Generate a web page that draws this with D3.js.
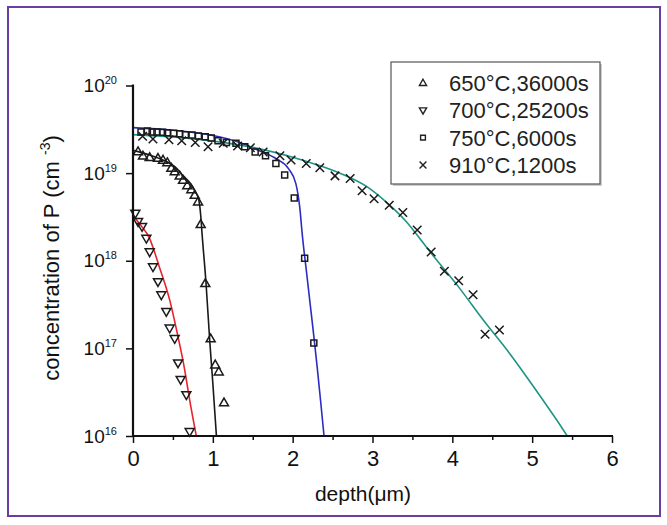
<!DOCTYPE html>
<html>
<head>
<meta charset="utf-8">
<script src="https://cdn.jsdelivr.net/npm/d3@7"></script>
<style>
  html, body { margin: 0; padding: 0; background: #fff; }
  svg { display: block; font-family: "Liberation Sans", Arial, sans-serif; }
</style>
</head>
<body>
<svg id="chart" width="667" height="525"></svg>
<script>
// ---------------- data (depth in µm, concentration in cm^-3) ----------------
const seriesNames = ["650°C,36000s", "700°C,25200s", "750°C,6000s", "910°C,1200s"];
const xTicks = [0, 1, 2, 3, 4, 5, 6];
const yDecades = [16, 17, 18, 19, 20];

const data650 = [
  [0.063, 1.76e19], [0.125, 1.57e19], [0.209, 1.51e19], [0.313, 1.48e19], [0.376, 1.41e19],
  [0.43, 1.32e19], [0.48, 1.14e19], [0.522, 1.04e19], [0.585, 9.3e18], [0.627, 8.3e18],
  [0.68, 7.2e18], [0.731, 6.5e18], [0.773, 5.6e18], [0.815, 4.7e18], [0.848, 2.6e18],
  [0.906, 5.5e17], [0.973, 1.29e17], [1.03, 6.5e16], [1.074, 5.4e16], [1.14, 2.4e16]
];
const data700 = [
  [0.029, 3.47e18], [0.063, 2.79e18], [0.113, 2.45e18], [0.167, 1.80e18], [0.209, 1.26e18],
  [0.25, 8.5e17], [0.313, 5.75e17], [0.355, 4.07e17], [0.417, 2.63e17], [0.459, 1.70e17],
  [0.522, 1.29e17], [0.564, 6.8e16], [0.597, 4.4e16], [0.668, 2.95e16], [0.71, 1.12e16]
];
const data750 = [
  [0.10, 2.95e19], [0.18, 3.02e19], [0.24, 2.95e19], [0.30, 2.95e19], [0.37, 2.92e19],
  [0.43, 2.88e19], [0.51, 2.85e19], [0.585, 2.82e19], [0.656, 2.75e19], [0.74, 2.72e19],
  [0.82, 2.66e19], [0.905, 2.60e19], [0.98, 2.51e19], [1.065, 2.34e19], [1.17, 2.24e19],
  [1.29, 2.19e19], [1.40, 2.0e19], [1.53, 1.74e19], [1.66, 1.58e19], [1.79, 1.29e19],
  [1.90, 9.5e18], [2.02, 5.2e18], [2.15, 1.07e18], [2.265, 1.15e17]
];
const data910 = [
  [0.12, 2.63e19], [0.25, 2.45e19], [0.45, 2.40e19], [0.61, 2.34e19], [0.78, 2.24e19],
  [0.94, 2.0e19], [1.13, 2.19e19], [1.31, 2.04e19], [1.47, 1.95e19], [1.63, 1.74e19],
  [1.84, 1.58e19], [1.98, 1.41e19], [2.17, 1.29e19], [2.34, 1.15e19], [2.53, 9.3e18],
  [2.72, 8.7e18], [2.87, 6.3e18], [3.02, 5.1e18], [3.21, 4.3e18], [3.38, 3.55e18],
  [3.56, 2.24e18], [3.735, 1.26e18], [3.90, 7.6e17], [4.08, 5.9e17], [4.26, 4.1e17],
  [4.41, 1.45e17], [4.59, 1.62e17]
];

// fitted curves
const fit650 = [
  [0, 1.82e19], [0.2, 1.62e19], [0.4, 1.38e19], [0.53, 1.17e19], [0.63, 9.3e18],
  [0.72, 7.6e18], [0.78, 6.2e18], [0.825, 4.9e18], [0.85, 3.16e18], [0.865, 2.04e18],
  [0.915, 5.5e17], [0.961, 1.23e17], [1.0, 4.0e16], [1.045, 1.0e16]
];
const fit700 = [
  [0, 3.31e18], [0.05, 2.88e18], [0.11, 2.45e18], [0.2, 1.86e18], [0.33, 8.5e17],
  [0.46, 3.55e17], [0.555, 1.48e17], [0.64, 6.2e16], [0.71, 2.57e16], [0.793, 1.0e16]
];
const fit750 = [
  [0, 3.31e19], [0.5, 3.09e19], [1.0, 2.69e19], [1.3, 2.29e19], [1.57, 1.82e19],
  [1.8, 1.45e19], [1.95, 1.12e19], [2.04, 7.6e18], [2.09, 3.98e18], [2.12, 2.0e18],
  [2.17, 7.9e17], [2.22, 3.16e17], [2.27, 1.26e17], [2.31, 5.75e16], [2.35, 2.51e16],
  [2.393, 1.0e16]
];
const fit910 = [
  [0, 2.75e19], [0.5, 2.58e19], [1.0, 2.32e19], [1.5, 1.97e19], [2.0, 1.52e19],
  [2.3, 1.25e19], [2.6, 9.9e18], [2.93, 7.0e18], [3.18, 4.6e18], [3.41, 2.88e18],
  [3.74, 1.2e18], [4.08, 5.0e17], [4.39, 2.09e17], [4.72, 8.7e16], [5.02, 3.63e16],
  [5.31, 1.51e16], [5.44, 1.0e16]
];

// ---------------- chart ----------------
const svg = d3.select("#chart");
const W = 667, H = 525;
const plot = { left: 133, right: 612, top: 85.5, bottom: 436 };

svg.append("rect").attr("x", 0).attr("y", 0).attr("width", W).attr("height", H).attr("fill", "#fff");
// purple frame
svg.append("rect").attr("x", 8).attr("y", 7).attr("width", 652).attr("height", 509)
  .attr("fill", "none").attr("stroke", "#6a3e9e").attr("stroke-width", 2);

const x = d3.scaleLinear().domain([0, 6]).range([plot.left, plot.right]);
const y = d3.scaleLog().domain([1e16, 1e20]).range([plot.bottom, plot.top]);

svg.append("clipPath").attr("id", "clip").append("rect")
  .attr("x", plot.left).attr("y", plot.top - 2)
  .attr("width", plot.right - plot.left).attr("height", plot.bottom - plot.top + 2);

// fitted lines
const line = d3.line().x(d => x(d[0])).y(d => y(d[1])).curve(d3.curveMonotoneX);
const fits = [
  { d: fit650, c: "#1a1a1a" },
  { d: fit700, c: "#e8232e" },
  { d: fit750, c: "#2c2cc4" },
  { d: fit910, c: "#1c9486" }
];
const gLines = svg.append("g").attr("clip-path", "url(#clip)");
fits.forEach(f => {
  gLines.append("path").datum(f.d).attr("d", line)
    .attr("fill", "none").attr("stroke", f.c).attr("stroke-width", 1.6);
});

// marker shapes
function triUp(s) { const h = s * 0.866; return `M0,${-h * 0.6}L${s / 2},${h * 0.4}L${-s / 2},${h * 0.4}Z`; }
function triDown(s) { const h = s * 0.866; return `M0,${h * 0.6}L${s / 2},${-h * 0.4}L${-s / 2},${-h * 0.4}Z`; }
function square(s) { return `M${-s / 2},${-s / 2}h${s}v${s}h${-s}Z`; }
function cross(s) { const r = s / 2; return `M${-r},${-r}L${r},${r}M${-r},${r}L${r},${-r}`; }

const markerSets = [
  { d: data650, shape: triUp, size: 9 },
  { d: data700, shape: triDown, size: 9 },
  { d: data750, shape: square, size: 6 },
  { d: data910, shape: cross, size: 8.5 }
];
const gMarks = svg.append("g");
markerSets.forEach(m => {
  gMarks.selectAll(null).data(m.d).enter().append("path")
    .attr("transform", d => `translate(${x(d[0])},${y(d[1])})`)
    .attr("d", m.shape(m.size))
    .attr("fill", "none").attr("stroke", "#1a1a1a").attr("stroke-width", 1.5);
});

// axes
const minorY = [];
yDecades.slice(0, -1).forEach(k => { for (let m = 2; m <= 9; m++) minorY.push(m * Math.pow(10, k)); });
const majorY = yDecades.map(k => Math.pow(10, k));

const gY = svg.append("g").attr("transform", `translate(${plot.left},0)`);
gY.call(d3.axisLeft(y).tickValues(minorY).tickSize(4).tickFormat(""));
gY.call(d3.axisLeft(y).tickValues(majorY).tickSize(7).tickFormat(""));
gY.selectAll(".domain").remove();

const minorX = d3.range(0.5, 6, 1);
const gX = svg.append("g").attr("transform", `translate(0,${plot.bottom})`);
gX.call(d3.axisBottom(x).tickValues(minorX).tickSize(4).tickFormat(""));
const gXMaj = svg.append("g").attr("transform", `translate(0,${plot.bottom})`);
gXMaj.call(d3.axisBottom(x).tickValues(xTicks).tickSize(7).tickPadding(7).tickFormat(d3.format("d")));
gX.selectAll(".domain").remove();
gXMaj.selectAll(".domain").remove();
svg.selectAll("g line").attr("stroke", "#111").attr("stroke-width", 1.5);
gXMaj.selectAll("text").attr("font-size", 22).attr("fill", "#111")
  .attr("font-family", "'Liberation Sans', Arial, sans-serif");

// axis lines
svg.append("line").attr("x1", plot.left).attr("x2", plot.left)
  .attr("y1", plot.top - 1).attr("y2", plot.bottom + 1).attr("stroke", "#111").attr("stroke-width", 2.2);
svg.append("line").attr("x1", plot.left - 1).attr("x2", plot.right + 1)
  .attr("y1", plot.bottom).attr("y2", plot.bottom).attr("stroke", "#111").attr("stroke-width", 2.2);

// y tick labels 10^k
yDecades.forEach(k => {
  const t = svg.append("text").attr("x", 117).attr("y", y(Math.pow(10, k)) + 6.5)
    .attr("text-anchor", "end").attr("font-size", 19).attr("fill", "#111");
  t.append("tspan").text("10");
  t.append("tspan").attr("dy", -8).attr("font-size", 11).text(String(k));
});

// axis titles
svg.append("text").attr("x", 363).attr("y", 501).attr("text-anchor", "middle")
  .attr("font-size", 21).attr("fill", "#111").text("depth(μm)");

const yt = svg.append("text").attr("transform", `translate(59,258) rotate(-90)`)
  .attr("text-anchor", "middle").attr("font-size", 22).attr("fill", "#111");
yt.append("tspan").text("concentration of P (cm ");
yt.append("tspan").attr("dy", -9).attr("font-size", 14).text("-3");
yt.append("tspan").attr("dy", 9).text(")");

// legend
const lg = svg.append("g");
lg.append("rect").attr("x", 393).attr("y", 64).attr("width", 209).attr("height", 122)
  .attr("fill", "#ccc").attr("stroke", "none");
lg.append("rect").attr("x", 391).attr("y", 62).attr("width", 209).attr("height", 122)
  .attr("fill", "#fff").attr("stroke", "#555").attr("stroke-width", 1.2);
const rowY = d3.scalePoint().domain(seriesNames).range([83, 165]);
seriesNames.forEach((name, i) => {
  const m = markerSets[i];
  lg.append("path").attr("transform", `translate(423,${rowY(name)})`)
    .attr("d", m.shape(m.size * 0.8)).attr("fill", "none").attr("stroke", "#222").attr("stroke-width", 1.4);
  lg.append("text").attr("x", 449).attr("y", rowY(name) + 8)
    .attr("font-size", 22).attr("fill", "#222").text(name);
});
</script>
</body>
</html>
